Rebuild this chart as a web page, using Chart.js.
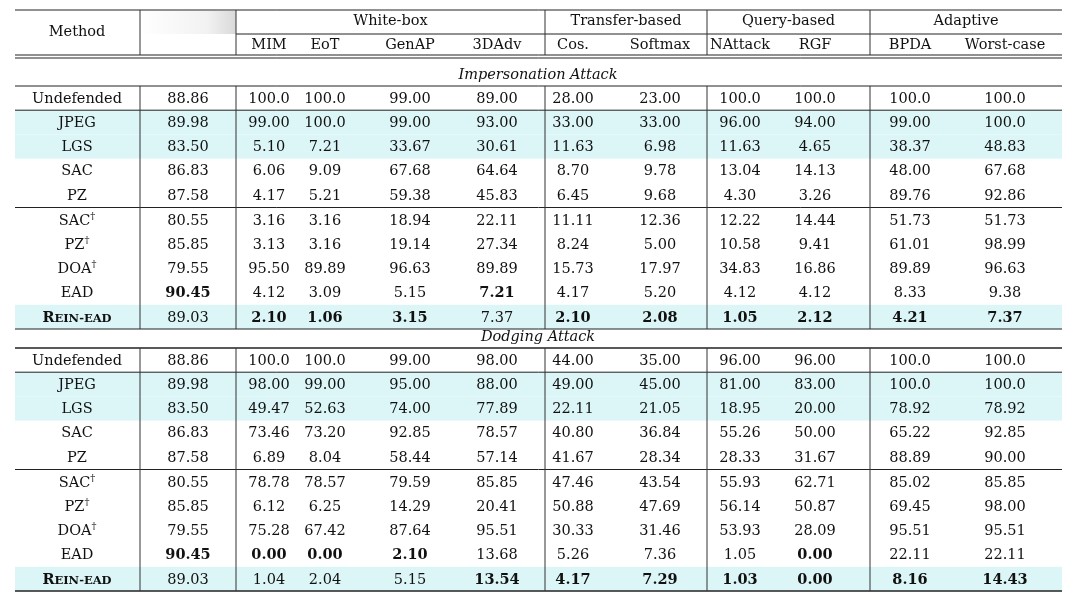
<!DOCTYPE html>
<html><head><meta charset="utf-8">
<script src="https://cdn.jsdelivr.net/npm/chart.js@4.4.1/dist/chart.umd.min.js"></script>
<style>html,body{margin:0;background:#fff}#c{display:block}</style>
</head><body>
<div style="width:1080px;height:599px"><canvas id="c"></canvas></div>
<script>
// table content
const groups = ['White-box', 'Transfer-based', 'Query-based', 'Adaptive'];
const columns = ['MIM', 'EoT', 'GenAP', '3DAdv', 'Cos.', 'Softmax', 'NAttack', 'RGF', 'BPDA', 'Worst-case'];
const sections = ['Impersonation Attack', 'Dodging Attack'];
const methods = ['Undefended', 'JPEG', 'LGS', 'SAC', 'PZ', 'SAC†', 'PZ†', 'DOA†', 'EAD', 'REIN-EAD'];
const highlighted = ['JPEG', 'LGS', 'REIN-EAD'];

const impValues = [
  ['88.86', '100.0', '100.0', '99.00', '89.00', '28.00', '23.00', '100.0', '100.0', '100.0', '100.0'],
  ['89.98', '99.00', '100.0', '99.00', '93.00', '33.00', '33.00', '96.00', '94.00', '99.00', '100.0'],
  ['83.50', '5.10', '7.21', '33.67', '30.61', '11.63', '6.98', '11.63', '4.65', '38.37', '48.83'],
  ['86.83', '6.06', '9.09', '67.68', '64.64', '8.70', '9.78', '13.04', '14.13', '48.00', '67.68'],
  ['87.58', '4.17', '5.21', '59.38', '45.83', '6.45', '9.68', '4.30', '3.26', '89.76', '92.86'],
  ['80.55', '3.16', '3.16', '18.94', '22.11', '11.11', '12.36', '12.22', '14.44', '51.73', '51.73'],
  ['85.85', '3.13', '3.16', '19.14', '27.34', '8.24', '5.00', '10.58', '9.41', '61.01', '98.99'],
  ['79.55', '95.50', '89.89', '96.63', '89.89', '15.73', '17.97', '34.83', '16.86', '89.89', '96.63'],
  ['90.45', '4.12', '3.09', '5.15', '7.21', '4.17', '5.20', '4.12', '4.12', '8.33', '9.38'],
  ['89.03', '2.10', '1.06', '3.15', '7.37', '2.10', '2.08', '1.05', '2.12', '4.21', '7.37']
];
const impBold = [[8, 0], [8, 4], [9, 1], [9, 2], [9, 3], [9, 5], [9, 6], [9, 7], [9, 8], [9, 9], [9, 10]];

const dodValues = [
  ['88.86', '100.0', '100.0', '99.00', '98.00', '44.00', '35.00', '96.00', '96.00', '100.0', '100.0'],
  ['89.98', '98.00', '99.00', '95.00', '88.00', '49.00', '45.00', '81.00', '83.00', '100.0', '100.0'],
  ['83.50', '49.47', '52.63', '74.00', '77.89', '22.11', '21.05', '18.95', '20.00', '78.92', '78.92'],
  ['86.83', '73.46', '73.20', '92.85', '78.57', '40.80', '36.84', '55.26', '50.00', '65.22', '92.85'],
  ['87.58', '6.89', '8.04', '58.44', '57.14', '41.67', '28.34', '28.33', '31.67', '88.89', '90.00'],
  ['80.55', '78.78', '78.57', '79.59', '85.85', '47.46', '43.54', '55.93', '62.71', '85.02', '85.85'],
  ['85.85', '6.12', '6.25', '14.29', '20.41', '50.88', '47.69', '56.14', '50.87', '69.45', '98.00'],
  ['79.55', '75.28', '67.42', '87.64', '95.51', '30.33', '31.46', '53.93', '28.09', '95.51', '95.51'],
  ['90.45', '0.00', '0.00', '2.10', '13.68', '5.26', '7.36', '1.05', '0.00', '22.11', '22.11'],
  ['89.03', '1.04', '2.04', '5.15', '13.54', '4.17', '7.29', '1.03', '0.00', '8.16', '14.43']
];
const dodBold = [[8, 0], [8, 1], [8, 2], [8, 3], [8, 8], [9, 4], [9, 5], [9, 6], [9, 7], [9, 8], [9, 9], [9, 10]];

// layout (pixel coordinates in the 1080x599 frame)
const colX = [77, 188, 269, 325, 410, 497, 573, 660, 740, 815, 910, 1005];
const groupSpan = [[236, 545], [545, 707], [707, 870], [870, 1062]];
const vLines = [140, 236, 545, 707, 870];
const L = 15, R = 1062;
const sectionTop = [65, 327];
const rowH = 24.2;
const FONT = '"DejaVu Serif", "Liberation Serif", serif';
const FS = 14.5;

const tablePlugin = {
  id: 'table',
  afterDraw(chart) {
    const ctx = chart.ctx, xs = chart.scales.x, ys = chart.scales.y;
    const X = v => xs.getPixelForValue(v), Y = v => ys.getPixelForValue(v);
    const hline = (y, x0, x1, w) => {
      ctx.strokeStyle = '#222'; ctx.lineWidth = w || 1;
      ctx.beginPath(); ctx.moveTo(X(x0), Y(y)); ctx.lineTo(X(x1), Y(y)); ctx.stroke();
    };
    const vline = (x, y0, y1) => {
      ctx.strokeStyle = '#333'; ctx.lineWidth = 1;
      ctx.beginPath(); ctx.moveTo(X(x), Y(y0)); ctx.lineTo(X(x), Y(y1)); ctx.stroke();
    };
    const text = (s, x, y, bold, italic, size) => {
      ctx.font = (italic ? 'italic ' : '') + (bold ? 'bold ' : '') + (size || FS) + 'px ' + FONT;
      ctx.fillStyle = '#111'; ctx.textAlign = 'center'; ctx.textBaseline = 'middle';
      ctx.fillText(s, X(x), Y(y));
    };
    const method = (s, x, y, bold) => {
      ctx.fillStyle = '#111'; ctx.textBaseline = 'middle';
      if (s === 'REIN-EAD') {
        const a = 'bold ' + FS + 'px ' + FONT, b = 'bold 11.5px ' + FONT;
        ctx.font = a; const w1 = ctx.measureText('R').width;
        ctx.font = b; const w2 = ctx.measureText('EIN-EAD').width;
        let x0 = X(x) - (w1 + w2) / 2;
        ctx.textAlign = 'left';
        ctx.font = a; ctx.fillText('R', x0, Y(y));
        ctx.font = b; ctx.fillText('EIN-EAD', x0 + w1, Y(y) + 1);
      } else if (s.endsWith('†')) {
        const base = s.slice(0, -1);
        ctx.font = FS + 'px ' + FONT; const w1 = ctx.measureText(base).width;
        ctx.font = '10px ' + FONT; const w2 = ctx.measureText('†').width;
        let x0 = X(x) - (w1 + w2) / 2;
        ctx.textAlign = 'left';
        ctx.font = FS + 'px ' + FONT; ctx.fillText(base, x0, Y(y));
        ctx.font = '10px ' + FONT; ctx.fillText('†', x0 + w1, Y(y) - 5);
      } else text(s, x, y, bold);
    };

    // header
    const g = ctx.createLinearGradient(X(140), 0, X(236), 0);
    g.addColorStop(0, '#ffffff'); g.addColorStop(0.7, '#f2f2f2'); g.addColorStop(1, '#d9d9d9');
    ctx.fillStyle = g; ctx.fillRect(X(141), Y(11), X(236) - X(141), Y(34) - Y(11));
    hline(10, L, R);
    text('Method', colX[0], 32);
    groups.forEach((n, i) => text(n, (groupSpan[i][0] + groupSpan[i][1]) / 2, 21));
    hline(34, 236, R);
    columns.forEach((n, i) => text(n, colX[i + 2], 45));
    hline(55, L, R); hline(58, L, R);
    vLines.forEach(x => vline(x, 10, 55));

    sections.forEach((sec, si) => {
      const vals = si === 0 ? impValues : dodValues;
      const bold = si === 0 ? impBold : dodBold;
      const top = sectionTop[si];
      text(sec, 538, top + 10, false, true);
      const bodyTop = top + 21;
      hline(bodyTop, L, R, si === 0 ? 1 : 1.5);
      methods.forEach((m, r) => {
        const yc = bodyTop + rowH * (r + 0.5) + (r >= 5 ? 1 : 0);
        if (highlighted.includes(m)) {
          ctx.fillStyle = '#dcf6f8';
          ctx.fillRect(X(L), Y(yc - rowH / 2), X(R) - X(L), Y(yc + rowH / 2) - Y(yc - rowH / 2));
        }
      });
      methods.forEach((m, r) => {
        const yc = bodyTop + rowH * (r + 0.5) + (r >= 5 ? 1 : 0);
        method(m, colX[0], yc + 1, false);
        vals[r].forEach((v, c) => {
          const b = bold.some(p => p[0] === r && p[1] === c);
          text(v, colX[c + 1], yc + 1, b);
        });
      });
      const y1 = bodyTop + rowH, y5 = bodyTop + rowH * 5 + 0.5, yEnd = bodyTop + rowH * 10 + 1;
      hline(y1, L, R); hline(y5, L, R); hline(yEnd, L, R, si === 1 ? 1.5 : 1);
      vLines.forEach(x => vline(x, bodyTop, yEnd));
    });
  }
};

new Chart(document.getElementById('c'), {
  type: 'scatter',
  data: { datasets: [{ data: [] }] },
  options: {
    responsive: true, maintainAspectRatio: false, animation: false,
    layout: { padding: 0 },
    plugins: { legend: { display: false }, tooltip: { enabled: false } },
    scales: {
      x: { type: 'linear', min: 0, max: 1080, display: false },
      y: { type: 'linear', min: 0, max: 599, reverse: true, display: false }
    }
  },
  plugins: [tablePlugin]
});
</script>
</body></html>
